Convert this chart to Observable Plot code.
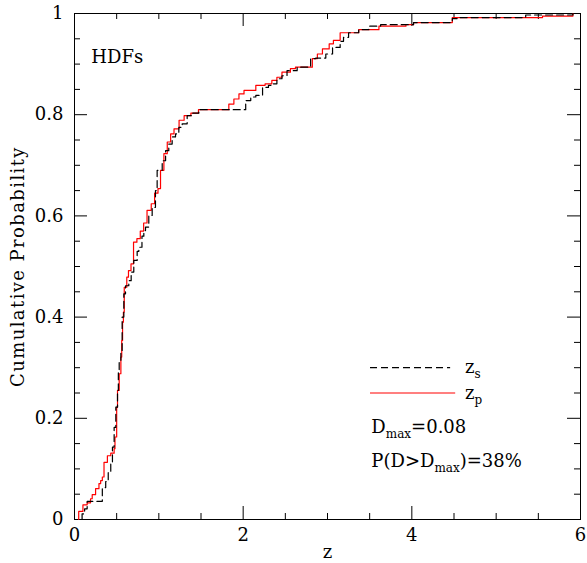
<!DOCTYPE html>
<html><head><meta charset="utf-8">
<script src="https://cdn.jsdelivr.net/npm/d3@7"></script>
<script src="https://cdn.jsdelivr.net/npm/@observablehq/plot@0.6"></script>
<style>body{margin:0;background:#fff;}</style>
</head><body><div id="chart"></div>
<script>
// z_s (spectroscopic) cumulative distribution: step points (z, cumulative probability)
const zsZ = [0.09,0.09,0.12,0.15,0.33,0.37,0.40,0.43,0.45,0.47,0.49,0.51,0.52,0.53,0.55,0.565,0.585,0.605,0.644,0.672,0.703,0.743,0.763,0.80,0.822,0.842,0.881,0.921,0.96,0.98,1.04,1.08,1.118,1.158,1.198,1.237,1.277,1.336,1.395,1.474,2.03,2.09,2.15,2.23,2.30,2.34,2.40,2.46,2.52,2.64,2.80,2.86,2.98,3.06,3.15,3.19,3.25,3.37,3.49,3.63,4.02,4.48,4.55,5.35,5.91];
const zsP = [0,0.011,0.021,0.036,0.063,0.075,0.095,0.113,0.143,0.182,0.222,0.255,0.290,0.314,0.334,0.40,0.446,0.462,0.472,0.489,0.512,0.530,0.538,0.560,0.571,0.578,0.601,0.617,0.650,0.690,0.709,0.729,0.742,0.756,0.762,0.775,0.782,0.798,0.803,0.810,0.828,0.835,0.838,0.854,0.858,0.861,0.871,0.877,0.887,0.894,0.911,0.912,0.920,0.933,0.945,0.953,0.962,0.968,0.975,0.978,0.982,0.990,0.992,0.997,1.0];
// z_p (photometric) cumulative distribution
const zpZ = [0.05,0.05,0.10,0.15,0.19,0.21,0.25,0.29,0.31,0.33,0.35,0.39,0.43,0.47,0.48,0.50,0.51,0.53,0.55,0.56,0.57,0.58,0.59,0.62,0.64,0.67,0.70,0.74,0.78,0.82,0.86,0.91,0.95,0.99,1.02,1.06,1.10,1.14,1.18,1.24,1.30,1.38,1.47,1.83,1.89,1.95,2.01,2.15,2.26,2.34,2.40,2.46,2.56,2.62,2.82,2.88,2.94,3.02,3.07,3.15,3.37,3.61,3.93,4.02,4.48,5.55,5.91];
const zpP = [0,0.016,0.029,0.033,0.041,0.049,0.061,0.071,0.077,0.084,0.113,0.126,0.131,0.140,0.163,0.222,0.255,0.288,0.321,0.354,0.39,0.41,0.459,0.479,0.492,0.505,0.548,0.555,0.570,0.586,0.611,0.624,0.645,0.654,0.690,0.723,0.746,0.762,0.772,0.789,0.798,0.803,0.810,0.821,0.831,0.841,0.848,0.858,0.861,0.868,0.874,0.884,0.891,0.894,0.911,0.920,0.930,0.940,0.947,0.962,0.968,0.975,0.978,0.982,0.992,0.995,1.0];

const xMajorTicks = [0,2,4,6];
const xMinorTicks = [0.5,1,1.5,2.5,3,3.5,4.5,5,5.5];
const yMajorTicks = [0,0.2,0.4,0.6,0.8,1];
const yMinorTicks = [0.05,0.1,0.15,0.25,0.3,0.35,0.45,0.5,0.55,0.65,0.7,0.75,0.85,0.9,0.95];
const yTickLabels = ["0","0.2","0.4","0.6","0.8","1"];
const xTickLabels = ["0","2","4","6"];

const seriesLabels = ["z_{s}","z_{p}"];
const fieldLabel = "HDFs";
const statLabels = ["D_{max}=0.08","P(D>D_{max})=38%"];
const xLabel = "z";
const yLabel = "Cumulative Probability";

const zs = zsZ.map((z,i)=>({z, p: zsP[i]}));
const zp = zpZ.map((z,i)=>({z, p: zpP[i]}));

const W = 587, H = 563, mL = 74, mR = 7, mT = 13, mB = 44;
const fw = W - mL - mR, fh = H - mT - mB;
const major = 13, minor = 6;

// legend / annotation anchors (data units)
const legX1 = 3.51, legX2s = 4.46, legX2p = 4.52, legTX = 4.63;
const legYs = 0.300, legYp = 0.250;

const svg = Plot.plot({
  width: W, height: H,
  marginLeft: mL, marginRight: mR, marginTop: mT, marginBottom: mB,
  x: {domain: [0,6], label: null},
  y: {domain: [0,1], label: null},
  style: {fontFamily: "'DejaVu Serif', serif", fontSize: "18px", background: "white", color: "black"},
  marks: [
    Plot.frame({stroke: "black", strokeWidth: 1}),
    // inward ticks on all four sides
    Plot.tickX(xMajorTicks, {x: d=>d, insetTop: fh - major, stroke: "black"}),
    Plot.tickX(xMinorTicks, {x: d=>d, insetTop: fh - minor, stroke: "black"}),
    Plot.tickX(xMajorTicks, {x: d=>d, insetBottom: fh - major, stroke: "black"}),
    Plot.tickX(xMinorTicks, {x: d=>d, insetBottom: fh - minor, stroke: "black"}),
    Plot.tickY(yMajorTicks, {y: d=>d, insetRight: fw - major, stroke: "black"}),
    Plot.tickY(yMinorTicks, {y: d=>d, insetRight: fw - minor, stroke: "black"}),
    Plot.tickY(yMajorTicks, {y: d=>d, insetLeft: fw - major, stroke: "black"}),
    Plot.tickY(yMinorTicks, {y: d=>d, insetLeft: fw - minor, stroke: "black"}),
    Plot.axisX(xMajorTicks, {tickSize: 0, tickPadding: 9, tickFormat: (d,i)=>xTickLabels[i], label: null}),
    Plot.axisY(yMajorTicks, {tickSize: 0, tickPadding: 11, tickFormat: (d,i)=>yTickLabels[i], label: null}),
    // curves
    Plot.line(zp, {x: "z", y: "p", curve: "step-after", stroke: "#ff0000", strokeWidth: 1.2}),
    Plot.line(zs, {x: "z", y: "p", curve: "step-after", stroke: "black", strokeWidth: 1.2, strokeDasharray: "7,4"}),
    // legend
    Plot.ruleY([legYs], {y: d=>d, x1: legX1, x2: legX2s, stroke: "black", strokeWidth: 1.2, strokeDasharray: "7,4"}),
    Plot.ruleY([legYp], {y: d=>d, x1: legX1, x2: legX2p, stroke: "#ff0000", strokeWidth: 1.2}),
    Plot.text([seriesLabels[0]], {x: legTX, y: legYs, text: d=>d, textAnchor: "start"}),
    Plot.text([seriesLabels[1]], {x: legTX, y: legYp, text: d=>d, textAnchor: "start"}),
    Plot.text([statLabels[0]], {x: 3.52, y: 0.183, text: d=>d, textAnchor: "start"}),
    Plot.text([statLabels[1]], {x: 3.52, y: 0.115, text: d=>d, textAnchor: "start"}),
    Plot.text([fieldLabel], {x: 0.2, y: 0.913, text: d=>d, textAnchor: "start"}),
    // axis titles
    Plot.text([xLabel], {frameAnchor: "bottom", dy: 38, text: d=>d, textAnchor: "middle"}),
    Plot.text([yLabel], {frameAnchor: "left", dx: -56, rotate: -90, text: d=>d, textAnchor: "middle"})
  ]
});

// subscripts
d3.select(svg).selectAll("text").each(function(){
  const t = this.textContent;
  if (!t.includes("_{")) return;
  const parts = t.split(/(_\{[^}]*\})/).filter(s=>s.length);
  this.textContent = "";
  let shifted = false;
  for (const p of parts) {
    const ts = document.createElementNS("http://www.w3.org/2000/svg","tspan");
    if (p.startsWith("_{")) {
      ts.textContent = p.slice(2,-1);
      ts.setAttribute("font-size", "12px");
      ts.setAttribute("dy", "5");
      shifted = true;
    } else {
      ts.textContent = p;
      if (shifted) { ts.setAttribute("dy", "-5"); shifted = false; }
    }
    this.appendChild(ts);
  }
});
d3.select(svg).selectAll("text").filter(function(){return this.textContent === yLabel;}).style("letter-spacing", "1.4px");

document.getElementById("chart").appendChild(svg);
</script>
</body></html>
